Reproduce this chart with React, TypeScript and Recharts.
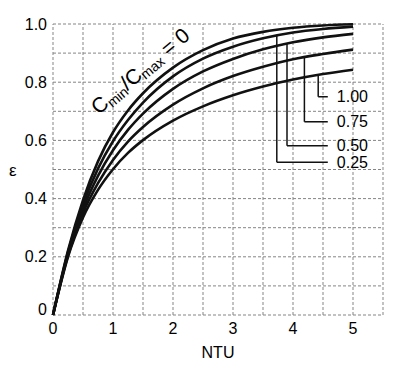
import React from 'react';
import { LineChart, Line, XAxis, YAxis, ReferenceLine, ReferenceDot } from 'recharts';

const NTU = [0, 0.25, 0.5, 0.75, 1, 1.25, 1.5, 2, 2.5, 3, 3.5, 4, 4.5, 5];
const eps0 = [0, 0.221, 0.395, 0.528, 0.628, 0.703, 0.762, 0.85, 0.91, 0.95, 0.973, 0.987, 0.995, 0.999];
const eps025 = [0, 0.216, 0.38, 0.503, 0.597, 0.67, 0.73, 0.82, 0.881, 0.922, 0.951, 0.971, 0.983, 0.991];
const eps050 = [0, 0.21, 0.364, 0.478, 0.566, 0.636, 0.692, 0.777, 0.837, 0.88, 0.913, 0.937, 0.954, 0.966];
const eps075 = [0, 0.205, 0.35, 0.453, 0.533, 0.596, 0.646, 0.723, 0.779, 0.821, 0.853, 0.879, 0.897, 0.912];
const eps100 = [0, 0.2, 0.335, 0.43, 0.501, 0.557, 0.601, 0.668, 0.717, 0.755, 0.785, 0.809, 0.828, 0.843];

const xTicks = [0, 1, 2, 3, 4, 5];
const yTicks = [0, 0.2, 0.4, 0.6, 0.8, 1.0];
const xGrid = [0, 0.5, 1, 1.5, 2, 2.5, 3, 3.5, 4, 4.5, 5, 5.5];
const yGrid = [0, 0.1, 0.2, 0.3, 0.4, 0.5, 0.6, 0.7, 0.8, 0.9, 1.0];

const leaderLabels = ['1.00', '0.75', '0.50', '0.25'];
const leaderX = [4.42, 4.19, 3.9, 3.73];
const leaderTop = [0.826, 0.886, 0.932, 0.963];
const leaderY = [0.75, 0.664, 0.582, 0.525];
const leaderEnd = 4.58;

const curveLabelAt = { x: 0.76, y: 0.686 };

const data = NTU.map((n, i) => ({
  ntu: n,
  c0: eps0[i],
  c25: eps025[i],
  c50: eps050[i],
  c75: eps075[i],
  c100: eps100[i],
}));

const FONT = '"Liberation Sans", Arial, sans-serif';

const YTick = (props: any) => {
  const { x, y, payload } = props;
  const v = payload.value;
  const label = v === 0 ? '0' : v.toFixed(1);
  return (
    <text x={x} y={v === 0 ? y - 6 : y} dy="0.355em" textAnchor="end" fill="#000" fontSize={16} fontFamily={FONT}>
      {label}
    </text>
  );
};

const CurveLabel = (props: any) => {
  const vb = props.viewBox || {};
  const x = vb.x + (vb.width || 0) / 2;
  const y = vb.y + (vb.height || 0) / 2;
  return (
    <text x={x} y={y} transform={`rotate(-40 ${x} ${y})`} fill="#000" fontSize={21} fontFamily={FONT}>
      <tspan>C</tspan>
      <tspan fontSize={14} dy={3}>min</tspan>
      <tspan dy={-3}>/C</tspan>
      <tspan fontSize={14} dy={3}>max</tspan>
      <tspan dy={-3}> = 0</tspan>
    </text>
  );
};

const gridStyle = { stroke: '#858585', strokeWidth: 1, strokeDasharray: '3 2' };

export default function App() {
  return (
    <div style={{ position: 'absolute', left: 0, top: 0, background: '#fff' }}>
      <LineChart width={404} height={368} data={data} margin={{ top: 24, right: 21, bottom: 8, left: 0 }}>
        <XAxis
          dataKey="ntu"
          type="number"
          domain={[0, 5.5]}
          ticks={xTicks}
          axisLine={false}
          tickLine={false}
          height={45}
          tick={{ fill: '#000', fontSize: 16, fontFamily: FONT }}
          label={{ value: 'NTU', position: 'insideBottom', offset: 2, fill: '#000', fontSize: 16, fontFamily: FONT }}
        />
        <YAxis
          type="number"
          domain={[0, 1]}
          ticks={yTicks}
          axisLine={false}
          tickLine={false}
          tickMargin={0}
          width={53}
          tick={<YTick />}
          label={{ value: 'ε', position: 'insideLeft', offset: 9, fill: '#000', fontSize: 17, fontFamily: FONT }}
        />
        {xGrid.map((v) => (
          <ReferenceLine key={'gx' + v} x={v} {...gridStyle} />
        ))}
        {yGrid.map((v) => (
          <ReferenceLine key={'gy' + v} y={v} {...gridStyle} />
        ))}
        {leaderLabels.map((lab, i) => (
          <ReferenceLine
            key={'lv' + lab}
            segment={[{ x: leaderX[i], y: leaderTop[i] }, { x: leaderX[i], y: leaderY[i] }]}
            stroke="#111"
            strokeWidth={1.5}
          />
        ))}
        {leaderLabels.map((lab, i) => (
          <ReferenceLine
            key={'lh' + lab}
            segment={[{ x: leaderX[i], y: leaderY[i] }, { x: leaderEnd, y: leaderY[i] }]}
            stroke="#111"
            strokeWidth={1.5}
          />
        ))}
        {leaderLabels.map((lab, i) => (
          <ReferenceDot
            key={'ld' + lab}
            x={leaderEnd}
            y={leaderY[i]}
            r={0}
            stroke="none"
            fill="none"
            label={{ value: lab, position: 'right', offset: 9, fill: '#000', fontSize: 16, fontFamily: FONT }}
          />
        ))}
        <Line dataKey="c0" type="monotone" stroke="#111" strokeWidth={2.6} dot={false} isAnimationActive={false} />
        <Line dataKey="c25" type="monotone" stroke="#111" strokeWidth={2.6} dot={false} isAnimationActive={false} />
        <Line dataKey="c50" type="monotone" stroke="#111" strokeWidth={2.6} dot={false} isAnimationActive={false} />
        <Line dataKey="c75" type="monotone" stroke="#111" strokeWidth={2.6} dot={false} isAnimationActive={false} />
        <Line dataKey="c100" type="monotone" stroke="#111" strokeWidth={2.6} dot={false} isAnimationActive={false} />
        <ReferenceDot x={curveLabelAt.x} y={curveLabelAt.y} r={0} stroke="none" fill="none" label={<CurveLabel />} />
      </LineChart>
    </div>
  );
}
